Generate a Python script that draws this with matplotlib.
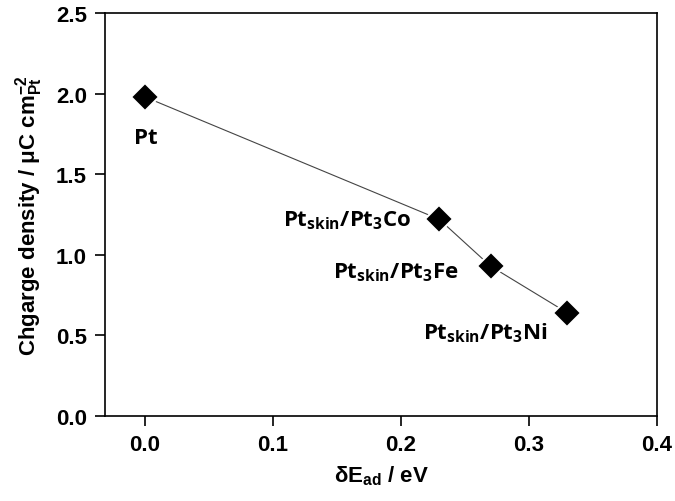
import matplotlib
matplotlib.use("Agg")
import matplotlib.pyplot as plt

# data
d_e_ad = [0.0, 0.23, 0.27, 0.33]
charge = [1.98, 1.22, 0.93, 0.64]
names = ["Pt", "Pt$_{skin}$/Pt$_{3}$Co", "Pt$_{skin}$/Pt$_{3}$Fe", "Pt$_{skin}$/Pt$_{3}$Ni"]
label_xy = [(0.001, 1.73), (0.208, 1.22), (0.245, 0.894), (0.266, 0.52)]
label_ha = ["center", "right", "right", "center"]

x_ticks = [0.0, 0.1, 0.2, 0.3, 0.4]
y_ticks = [0.0, 0.5, 1.0, 1.5, 2.0, 2.5]

plt.rcParams["mathtext.default"] = "regular"

fig = plt.figure(figsize=(6.75, 5.02), dpi=100)
ax = fig.add_axes([105 / 675, 1 - 417 / 502, (657 - 105) / 675, (417 - 14) / 502])

ax.plot(d_e_ad, charge, color="#444444", lw=0.8, zorder=1)
ax.plot(d_e_ad, charge, ls="none", marker="D", ms=14, color="black",
        markeredgecolor="white", markeredgewidth=1.5, zorder=2)

for name, (tx, ty), ha in zip(names, label_xy, label_ha):
    ax.text(tx, ty, name, ha=ha, va="center", fontsize=16,
            family="Open Sans", fontweight="bold")

ax.set_xlim(-0.031, 0.4)
ax.set_ylim(0, 2.5)
ax.set_xticks(x_ticks)
ax.set_yticks(y_ticks)
ax.set_xticklabels([f"{v:.1f}" for v in x_ticks])
ax.set_yticklabels([f"{v:.1f}" for v in y_ticks])
ax.tick_params(direction="out", length=7, width=1.2, labelsize=16, pad=6)
for lab in ax.get_xticklabels() + ax.get_yticklabels():
    lab.set_family("Liberation Sans")
    lab.set_fontweight("bold")
for sp in ax.spines.values():
    sp.set_linewidth(1.2)

ax.set_xlabel("δE$_{ad}$ / eV", fontsize=16, family="Liberation Sans",
              fontweight="bold", labelpad=6)
ax.set_ylabel("Chgarge density / μC cm$^{-2}_{Pt}$", fontsize=16,
              family="Liberation Sans", fontweight="bold", labelpad=8)

fig.savefig("out.png", dpi=100)
